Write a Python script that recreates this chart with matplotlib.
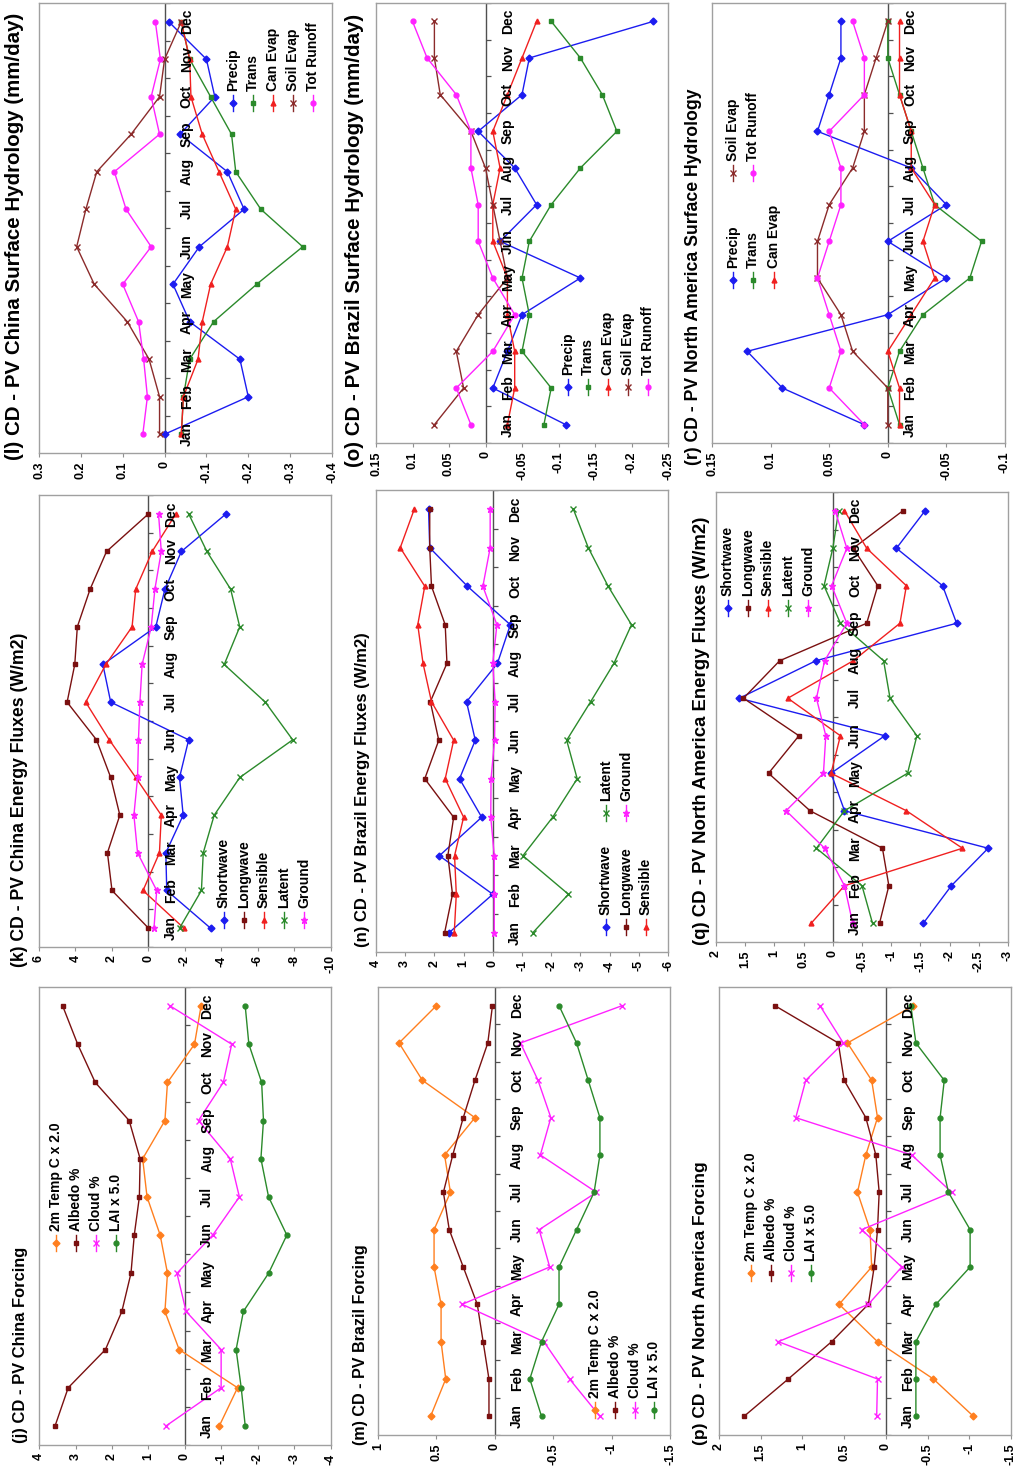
import numpy as np
import matplotlib
matplotlib.use('Agg')
import matplotlib.pyplot as plt
from matplotlib.lines import Line2D

plt.rcParams['font.family'] = ['Liberation Sans', 'DejaVu Sans']

W, H = 1018, 1479
MONTHS = ['Jan', 'Feb', 'Mar', 'Apr', 'May', 'Jun', 'Jul', 'Aug', 'Sep', 'Oct', 'Nov', 'Dec']

# ---- China ----
china_precip = [0.0, -0.20, -0.18, -0.06, -0.02, -0.083, -0.19, -0.15, -0.037, -0.12, -0.10, -0.01]
china_trans = [-0.04, -0.045, -0.06, -0.117, -0.22, -0.33, -0.23, -0.17, -0.16, -0.11, -0.06, -0.04]
china_canevap = [-0.04, -0.045, -0.08, -0.09, -0.11, -0.15, -0.17, -0.13, -0.09, -0.063, -0.06, -0.04]
china_soilevap = [0.012, 0.012, 0.037, 0.089, 0.168, 0.21, 0.188, 0.162, 0.08, 0.012, 0.0, -0.04]
china_runoff = [0.052, 0.041, 0.05, 0.062, 0.10, 0.032, 0.092, 0.12, 0.012, 0.032, 0.01, 0.022]

china_sw = [-3.4, -1.0, -0.95, -1.9, -1.7, -2.2, 2.07, 2.5, -0.4, -0.9, -1.8, -4.25]
china_lw = [0.0, 2.0, 2.25, 1.57, 2.07, 2.85, 4.46, 4.04, 3.9, 3.2, 2.3, 0.0]
china_sens = [-1.94, 0.3, -0.6, -0.7, 0.7, 2.15, 3.44, 2.34, 0.9, 0.7, -0.2, -1.5]
china_lat = [-1.7, -2.9, -3.0, -3.6, -5.0, -7.9, -6.4, -4.15, -5.0, -4.5, -3.2, -2.2]
china_grd = [-0.3, -0.45, 0.6, 0.8, 0.6, 0.55, 0.47, 0.35, -0.15, -0.35, -0.7, -0.55]

china_temp = [-0.94, -1.44, 0.16, 0.55, 0.48, 0.68, 1.04, 1.16, 0.55, 0.48, -0.26, -0.44]
china_albedo = [3.56, 3.2, 2.18, 1.73, 1.48, 1.39, 1.25, 1.23, 1.53, 2.46, 2.94, 3.35]
china_cloud = [0.52, -0.99, -0.99, -0.03, 0.22, -0.76, -1.49, -1.24, -0.37, -1.05, -1.28, 0.4]
china_lai = [-1.65, -1.54, -1.4, -1.6, -2.29, -2.79, -2.29, -2.08, -2.15, -2.1, -1.75, -1.65]

# ---- Brazil ----
brazil_precip = [-0.11, -0.01, -0.03, -0.05, -0.13, -0.02, -0.07, -0.04, 0.01, -0.05, -0.06, -0.23]
brazil_trans = [-0.08, -0.09, -0.05, -0.06, -0.05, -0.06, -0.09, -0.13, -0.18, -0.16, -0.13, -0.09]
brazil_canevap = [-0.03, -0.04, -0.04, -0.03, -0.03, -0.01, -0.01, -0.02, -0.01, -0.03, -0.05, -0.07]
brazil_soilevap = [0.07, 0.03, 0.04, 0.01, -0.03, -0.02, -0.01, 0.0, 0.02, 0.062, 0.07, 0.07]
brazil_runoff = [0.02, 0.04, -0.01, -0.04, -0.01, 0.01, 0.01, 0.02, 0.02, 0.04, 0.08, 0.10]

brazil_sw = [1.5, 0.0, 1.83, 0.38, 1.14, 0.6, 0.9, -0.16, -0.6, 0.87, 2.16, 2.2]
brazil_lw = [1.65, 1.38, 1.54, 1.34, 2.33, 1.85, 2.14, 1.57, 1.63, 2.1, 2.16, 2.16]
brazil_sens = [1.32, 1.25, 1.31, 1.0, 1.63, 1.34, 2.1, 2.39, 2.57, 2.33, 3.17, 2.69]
brazil_lat = [-1.37, -2.59, -1.03, -2.05, -2.89, -2.53, -3.35, -4.15, -4.75, -3.95, -3.27, -2.76]
brazil_grd = [-0.05, -0.05, -0.05, 0.07, 0.06, -0.06, -0.08, 0.0, -0.14, 0.34, 0.09, 0.09]

brazil_temp = [0.55, 0.42, 0.46, 0.46, 0.52, 0.52, 0.38, 0.43, 0.17, 0.62, 0.82, 0.5]
brazil_albedo = [0.05, 0.05, 0.1, 0.15, 0.27, 0.39, 0.44, 0.36, 0.27, 0.17, 0.06, 0.02]
brazil_cloud = [-0.9, -0.64, -0.42, 0.28, -0.47, -0.38, -0.87, -0.39, -0.48, -0.37, -0.22, -1.09]
brazil_lai = [-0.4, -0.3, -0.4, -0.55, -0.55, -0.7, -0.85, -0.9, -0.9, -0.8, -0.7, -0.55]

# ---- North America ----
na_precip = [0.02, 0.09, 0.12, 0.0, -0.05, 0.0, -0.05, -0.02, 0.06, 0.05, 0.04, 0.04]
na_trans = [-0.01, 0.0, -0.01, -0.03, -0.07, -0.08, -0.04, -0.03, -0.02, -0.01, 0.0, 0.0]
na_canevap = [-0.01, -0.01, 0.0, -0.02, -0.04, -0.03, -0.04, -0.02, -0.02, -0.01, -0.01, -0.01]
na_soilevap = [0.0, 0.0, 0.03, 0.04, 0.06, 0.06, 0.05, 0.03, 0.02, 0.02, 0.01, 0.0]
na_runoff = [0.02, 0.05, 0.04, 0.05, 0.06, 0.05, 0.04, 0.04, 0.05, 0.02, 0.02, 0.03]

na_sw = [-1.55, -2.03, -2.66, -0.2, 0.03, -0.89, 1.6, 0.29, -2.12, -1.88, -1.09, -1.58]
na_lw = [-0.8, -0.96, -0.85, 0.39, 1.1, 0.58, 1.53, 0.91, -0.58, -0.77, -0.35, -1.2]
na_sens = [0.37, -0.2, -2.22, -1.26, 0.03, -0.13, 0.77, -0.35, -1.15, -1.26, -0.58, -0.2]
na_lat = [-0.68, -0.5, 0.28, -0.2, -1.28, -1.44, -0.98, -0.87, -0.13, 0.15, 0.0, -0.1]
na_grd = [-0.34, -0.2, 0.14, 0.8, 0.16, 0.12, 0.28, 0.14, -0.24, 0.02, -0.24, -0.04]

na_temp = [-1.05, -0.57, 0.1, 0.56, 0.17, 0.19, 0.34, 0.24, 0.1, 0.17, 0.46, -0.33]
na_albedo = [1.7, 1.17, 0.65, 0.21, 0.14, 0.1, 0.08, 0.12, 0.24, 0.5, 0.57, 1.33]
na_cloud = [0.11, 0.1, 1.29, 0.21, -0.19, 0.29, -0.79, -0.31, 1.08, 0.96, 0.51, 0.79]
na_lai = [-0.36, -0.36, -0.36, -0.6, -1.01, -1.01, -0.75, -0.65, -0.65, -0.7, -0.36, -0.3]

# axis ticks
ticks_l = [0.3, 0.2, 0.1, 0, -0.1, -0.2, -0.3, -0.4]
ticks_o = [0.15, 0.1, 0.05, 0, -0.05, -0.1, -0.15, -0.2, -0.25]
ticks_r = [0.15, 0.1, 0.05, 0, -0.05, -0.1]
ticks_k = [6, 4, 2, 0, -2, -4, -6, -8, -10]
ticks_n = [4, 3, 2, 1, 0, -1, -2, -3, -4, -5, -6]
ticks_q = [2, 1.5, 1, 0.5, 0, -0.5, -1, -1.5, -2, -2.5, -3]
ticks_j = [4, 3, 2, 1, 0, -1, -2, -3, -4]
ticks_m = [1, 0.5, 0, -0.5, -1, -1.5]
ticks_p = [2, 1.5, 1, 0.5, 0, -0.5, -1, -1.5]

STYLE = {
    'Precip': ('#1c1cf0', 'D', 3.5),
    'Trans': ('#2b8a2b', 's', 3),
    'Can Evap': ('#f02020', '^', 3.5),
    'Soil Evap': ('#8b2b2b', 'x', 4),
    'Tot Runoff': ('#ff22ff', 'o', 3.5),
    'Shortwave': ('#1c1cf0', 'D', 3.5),
    'Longwave': ('#7a1010', 's', 3),
    'Sensible': ('#f02020', '^', 3.5),
    'Latent': ('#2b8a2b', 'x', 4),
    'Ground': ('#ff22ff', '*', 5),
    '2m Temp C x 2.0': ('#ff7f1f', 'D', 3.5),
    'Albedo %': ('#7a1010', 's', 3),
    'Cloud %': ('#ff22ff', 'x', 4),
    'LAI x 5.0': ('#2b8a2b', 'o', 3.5),
}

HYD = ['Precip', 'Trans', 'Can Evap', 'Soil Evap', 'Tot Runoff']
ENE = ['Shortwave', 'Longwave', 'Sensible', 'Latent', 'Ground']
FRC = ['2m Temp C x 2.0', 'Albedo %', 'Cloud %', 'LAI x 5.0']

fig = plt.figure(figsize=(W / 100, H / 100), dpi=100)
fig.patch.set_facecolor('white')

tick_marker = np.array([[0, 0], [1, 0]])


def fmt(v):
    return '0' if abs(v) < 1e-12 else f'{v:g}'


def draw_panel(box, ticks, names, data, title, tpos, tsize, legend):
    left, top, right, bottom = box
    ax = fig.add_axes([left / W, 1 - bottom / H, (right - left) / W, (bottom - top) / H])
    idx = np.arange(12)
    for name, vals in zip(names, data):
        col, mk, ms = STYLE[name]
        ax.plot(vals, idx, color=col, lw=1.0, marker=mk, ms=ms, mew=1.0, zorder=3)
    ax.set_xlim(ticks[0], ticks[-1])
    ax.set_ylim(-0.5, 11.5)
    ax.axvline(0, color='#505050', lw=1.0, zorder=2)
    ax.plot(np.zeros(13), np.arange(13) - 0.5, ls='none', marker=tick_marker,
            ms=7, mew=0.9, color='#505050', zorder=2)
    for i, m in enumerate(MONTHS):
        ax.annotate(m, xy=(0, i), xytext=(11, 0), textcoords='offset points',
                    rotation=90, ha='left', va='center', fontsize=10,
                    fontweight='bold', zorder=4)
    ax.set_yticks([])
    ax.set_xticks(ticks)
    ax.set_xticklabels([fmt(t) for t in ticks])
    ax.tick_params(axis='x', labelrotation=90, labelsize=9, length=3,
                   color='#909090', pad=3)
    for lab in ax.get_xticklabels():
        lab.set_fontweight('bold')
    for s in ax.spines.values():
        s.set_color('#a0a0a0')
        s.set_linewidth(1.0)
    fig.text(tpos[0] / W, 1 - tpos[1] / H, title, rotation=90, ha='center',
             va='bottom', fontsize=tsize, fontweight='bold')
    for name, (lx, ly) in legend.items():
        col, mk, ms = STYLE[name]
        fx = lx / W
        fig.add_artist(Line2D([fx, fx], [1 - (ly + 8) / H, 1 - (ly - 8) / H],
                              color=col, lw=1.0, transform=fig.transFigure))
        fig.add_artist(Line2D([fx], [1 - ly / H], color=col, marker=mk, ms=ms,
                              mew=1.0, transform=fig.transFigure))
        fig.text(fx, 1 - (ly - 12) / H, name, rotation=90, ha='center',
                 va='bottom', fontsize=10, fontweight='bold')
    return ax


# left column: China
draw_panel((39, 3, 332, 453), ticks_l, HYD,
           [china_precip, china_trans, china_canevap, china_soilevap, china_runoff],
           '(l) CD - PV China Surface Hydrology (mm/day)', (15, 460), 14.8,
           {'Precip': (233, 103), 'Trans': (253, 103), 'Can Evap': (273, 103),
            'Soil Evap': (293, 103), 'Tot Runoff': (313, 103)})
draw_panel((39, 495, 331, 947), ticks_k, ENE,
           [china_sw, china_lw, china_sens, china_lat, china_grd],
           '(k) CD - PV China Energy Fluxes (W/m2)', (20, 967), 12.7,
           {'Shortwave': (224, 920), 'Longwave': (244, 920), 'Sensible': (264, 920),
            'Latent': (284, 920), 'Ground': (304, 920)})
draw_panel((39, 987, 331, 1445), ticks_j, FRC,
           [china_temp, china_albedo, china_cloud, china_lai],
           '(j) CD - PV China Forcing', (21, 1443), 11.9,
           {'2m Temp C x 2.0': (56, 1243), 'Albedo %': (76, 1243),
            'Cloud %': (96, 1243), 'LAI x 5.0': (116, 1243)})

# middle column: Brazil
draw_panel((376, 3, 668, 443), ticks_o, HYD,
           [brazil_precip, brazil_trans, brazil_canevap, brazil_soilevap, brazil_runoff],
           '(o) CD - PV Brazil Surface Hydrology (mm/day)', (355, 467), 14.8,
           {'Precip': (568, 387), 'Trans': (588, 387), 'Can Evap': (608, 387),
            'Soil Evap': (628, 387), 'Tot Runoff': (648, 387)})
draw_panel((376, 490, 668, 952), ticks_n, ENE,
           [brazil_sw, brazil_lw, brazil_sens, brazil_lat, brazil_grd],
           '(n) CD - PV Brazil Energy Fluxes (W/m2)', (362, 947), 12.0,
           {'Shortwave': (606, 927), 'Longwave': (626, 927), 'Sensible': (646, 927),
            'Latent': (606, 813), 'Ground': (626, 813)})
draw_panel((378, 987, 670, 1435), ticks_m, FRC,
           [brazil_temp, brazil_albedo, brazil_cloud, brazil_lai],
           '(m) CD - PV Brazil Forcing', (360, 1445), 11.6,
           {'2m Temp C x 2.0': (595, 1410), 'Albedo %': (615, 1410),
            'Cloud %': (635, 1410), 'LAI x 5.0': (654, 1410)})

# right column: North America
draw_panel((712, 3, 1005, 443), ticks_r, HYD,
           [na_precip, na_trans, na_canevap, na_soilevap, na_runoff],
           '(r) CD - PV North America Surface Hydrology', (693, 465), 12.7,
           {'Precip': (733, 280), 'Trans': (753, 280), 'Can Evap': (774, 280),
            'Soil Evap': (733, 173), 'Tot Runoff': (753, 173)})
draw_panel((716, 492, 1008, 942), ticks_q, ENE,
           [na_sw, na_lw, na_sens, na_lat, na_grd],
           '(q) CD - PV North America Energy Fluxes (W/m2)', (702, 945), 13.4,
           {'Shortwave': (728, 608), 'Longwave': (748, 608), 'Sensible': (768, 608),
            'Latent': (788, 608), 'Ground': (808, 608)})
draw_panel((719, 987, 1011, 1435), ticks_p, FRC,
           [na_temp, na_albedo, na_cloud, na_lai],
           '(p) CD - PV North America Forcing', (700, 1445), 12.5,
           {'2m Temp C x 2.0': (751, 1273), 'Albedo %': (771, 1273),
            'Cloud %': (791, 1273), 'LAI x 5.0': (811, 1273)})

fig.savefig('out.png', dpi=100, facecolor='white')
